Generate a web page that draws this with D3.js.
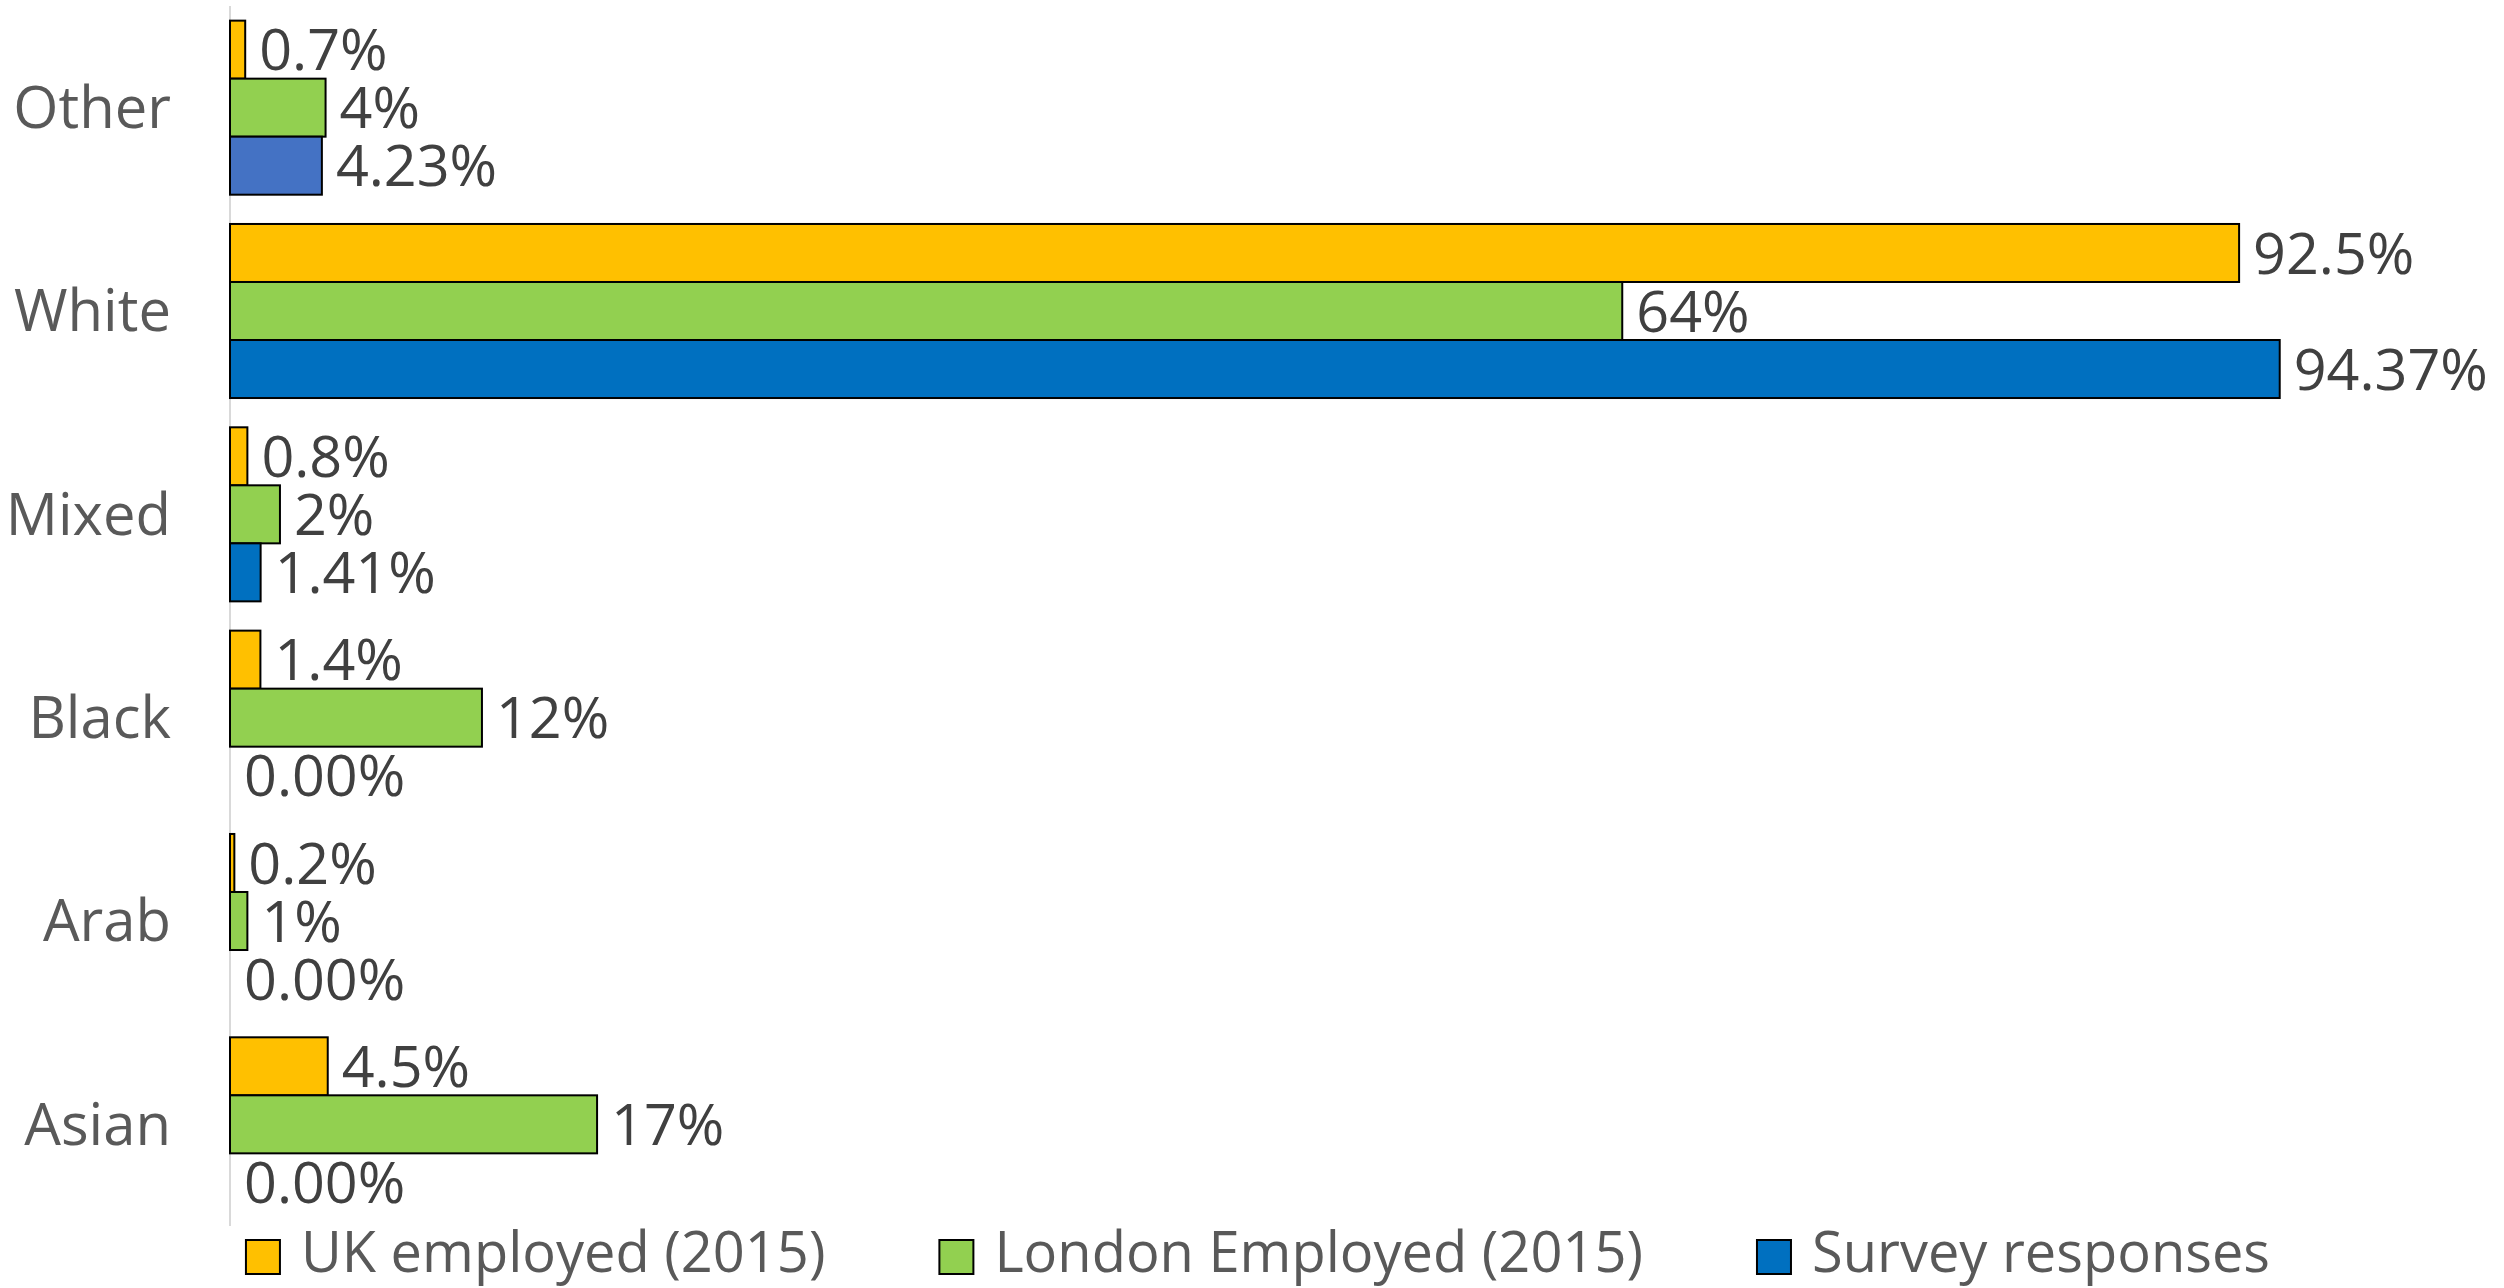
<!DOCTYPE html>
<html>
<head>
<meta charset="utf-8">
<script src="https://cdn.jsdelivr.net/npm/d3@7"></script>
<style>
  body { margin: 0; background: #fff; }
  text { font-family: "Open Sans", sans-serif; }
</style>
</head>
<body>
<svg width="2504" height="1288"></svg>
<script>
// categories, top to bottom
var categories = ["Other", "White", "Mixed", "Black", "Arab", "Asian"];

var seriesNames = ["UK employed (2015)", "London Employed (2015)", "Survey responses"];

var ukEmployed = [0.7, 92.5, 0.8, 1.4, 0.2, 4.5];
var londonEmployed = [4.4, 64.1, 2.3, 11.6, 0.8, 16.9];
var surveyResponses = [4.23, 94.37, 1.41, 0, 0, 0];

var seriesColors = ["#FFC000", "#92D050", "#0070C0"];
// label number formats per series
var labelFormats = [".1f", ".0f", ".2f"];

var svg = d3.select("svg"),
  width = +svg.attr("width"),
  height = +svg.attr("height");

var margin = {top: 6, right: 102, bottom: 62, left: 230};

var allValues = [ukEmployed, londonEmployed, surveyResponses];

var data = categories.map(function(c, i) {
  return {
    category: c,
    values: seriesNames.map(function(s, j) {
      return {series: s, idx: j, value: allValues[j][i], category: c};
    })
  };
});

var x = d3.scaleLinear()
  .domain([0, 100])
  .range([margin.left, width - margin.right]);

var y = d3.scaleBand()
  .domain(categories)
  .range([margin.top, height - margin.bottom])
  .paddingInner(0.144)
  .paddingOuter(0.072);

var ySeries = d3.scaleBand()
  .domain(seriesNames)
  .range([0, y.bandwidth()]);

function barColor(d) {
  // the survey bar for "Other" is a lighter blue in the original
  if (d.category == "Other" && d.idx == 2) return "#4472C4";
  return seriesColors[d.idx];
}

// vertical axis line
svg.append("line")
  .attr("x1", x(0))
  .attr("x2", x(0))
  .attr("y1", margin.top)
  .attr("y2", height - margin.bottom)
  .attr("stroke", "#D9D9D9")
  .attr("stroke-width", 2);

var groups = svg.append("g")
  .attr("class", "groups")
  .selectAll("g")
  .data(data)
  .enter()
  .append("g")
  .attr("transform", function(d) { return "translate(0," + y(d.category) + ")"; });

groups.selectAll("rect")
  .data(function(d) { return d.values.filter(function(v) { return v.value > 0; }); })
  .enter()
  .append("rect")
  .attr("x", x(0))
  .attr("y", function(d) { return ySeries(d.series); })
  .attr("width", function(d) { return x(d.value) - x(0); })
  .attr("height", ySeries.bandwidth())
  .attr("fill", barColor)
  .attr("stroke", "#000")
  .attr("stroke-width", 2);

groups.selectAll("text.value")
  .data(function(d) { return d.values; })
  .enter()
  .append("text")
  .attr("class", "value")
  .attr("x", function(d) { return x(d.value) + 14; })
  .attr("y", function(d) { return ySeries(d.series) + ySeries.bandwidth() / 2; })
  .attr("dy", "0.36em")
  .style("font-size", "57.5px")
  .attr("fill", "#404040")
  .text(function(d) { return d3.format(labelFormats[d.idx])(d.value) + "%"; });

// category labels
svg.append("g")
  .attr("class", "cats")
  .selectAll("text")
  .data(categories)
  .enter()
  .append("text")
  .attr("x", 171)
  .attr("y", function(d) { return y(d) + y.bandwidth() / 2; })
  .attr("dy", "0.35em")
  .attr("text-anchor", "end")
  .style("font-size", "58px")
  .attr("fill", "#595959")
  .text(function(d) { return d; });

// legend
var legend = svg.append("g").attr("class", "legend");
var items = legend.selectAll("g")
  .data(seriesNames)
  .enter()
  .append("g");

items.append("rect")
  .attr("width", 34)
  .attr("height", 34)
  .attr("y", 1240)
  .attr("fill", function(d, i) { return seriesColors[i]; })
  .attr("stroke", "#000")
  .attr("stroke-width", 2);

items.append("text")
  .attr("x", 55)
  .attr("y", 1272)
  .style("font-size", "56px")
  .attr("fill", "#595959")
  .text(function(d) { return d; });

var widths = [];
items.each(function() {
  widths.push(55 + d3.select(this).select("text").node().getComputedTextLength());
});
var gap = 114;
var total = d3.sum(widths) + gap * (widths.length - 1);
var pos = 1258 - total / 2;
items.attr("transform", function(d, i) {
  var p = pos;
  pos += widths[i] + gap;
  return "translate(" + p + ",0)";
});
</script>
</body>
</html>
